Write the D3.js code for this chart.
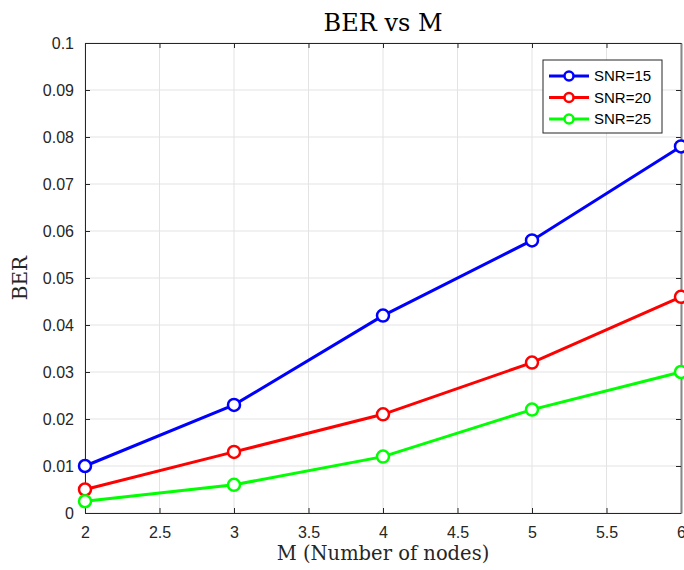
<!DOCTYPE html>
<html>
<head>
<meta charset="utf-8">
<script src="https://cdn.jsdelivr.net/npm/d3@7"></script>
<style>
    body { margin: 0; background: #fff; }
    svg { display: block; }
</style>
</head>
<body>
<svg id="chart" width="684" height="570"></svg>
<script>
const mValues = [ 2, 3, 4, 5, 6 ];
const berSnr15 = [ 0.010, 0.023, 0.042, 0.058, 0.078 ];
const berSnr20 = [ 0.005, 0.013, 0.021, 0.032, 0.046 ];
const berSnr25 = [ 0.0025, 0.006, 0.012, 0.022, 0.030 ];
const seriesNames = [ 'SNR=15', 'SNR=20', 'SNR=25' ];
const seriesColors = [ '#0000ff', '#ff0000', '#00ff00' ];
const xTicks = [ 2, 2.5, 3, 3.5, 4, 4.5, 5, 5.5, 6 ];
const yTicks = [ 0, 0.01, 0.02, 0.03, 0.04, 0.05, 0.06, 0.07, 0.08, 0.09, 0.1 ];

const series = [ berSnr15, berSnr20, berSnr25 ].map( ( vals, i ) => {
    return { name: seriesNames[ i ], color: seriesColors[ i ], values: vals.map( ( v, j ) => ( { m: mValues[ j ], ber: v } ) ) };
} );

const svg = d3.select( '#chart' ),
    margin = { top: 43, right: 3, bottom: 57, left: 85 };

// x=6 sits at 681, right part of the figure is cut off like the original
let x = d3.scaleLinear().domain( [ 2, 6 ] ).range( [ 0, 596 ] ),
    y = d3.scaleLinear().domain( [ 0, 0.1 ] ).range( [ 470, 0 ] );

const g = svg.append( 'g' ).attr( 'transform', 'translate(' + margin.left + ',' + margin.top + ')' );
const pw = x( 6 ), ph = y( 0 );

// grid
g.append( 'g' ).selectAll( 'line' ).data( xTicks ).enter().append( 'line' )
    .attr( 'x1', d => x( d ) ).attr( 'x2', d => x( d ) )
    .attr( 'y1', 0 ).attr( 'y2', ph )
    .attr( 'stroke', '#e3e3e3' ).attr( 'stroke-width', 1 );
g.append( 'g' ).selectAll( 'line' ).data( yTicks ).enter().append( 'line' )
    .attr( 'x1', 0 ).attr( 'x2', pw )
    .attr( 'y1', d => y( d ) ).attr( 'y2', d => y( d ) )
    .attr( 'stroke', '#e3e3e3' ).attr( 'stroke-width', 1 );

// axes
const fmtY = d => d === 0 ? '0' : d3.format( '' )( +d.toFixed( 2 ) );
const xAxis = g.append( 'g' ).attr( 'transform', 'translate(0,' + ph + ')' )
    .call( d3.axisBottom( x ).tickValues( xTicks ).tickSizeInner( -5 ).tickSizeOuter( 0 ).tickPadding( 14 ).tickFormat( d => d ) );
const xAxisTop = g.append( 'g' )
    .call( d3.axisTop( x ).tickValues( xTicks ).tickSizeInner( -5 ).tickSizeOuter( 0 ).tickFormat( '' ) );
const yAxis = g.append( 'g' )
    .call( d3.axisLeft( y ).tickValues( yTicks ).tickSizeInner( -5 ).tickSizeOuter( 0 ).tickPadding( 11 ).tickFormat( fmtY ) );
const yAxisRight = g.append( 'g' ).attr( 'transform', 'translate(' + pw + ',0)' )
    .call( d3.axisRight( y ).tickValues( yTicks ).tickSizeInner( -5 ).tickSizeOuter( 0 ).tickFormat( '' ) );

[ xAxis, xAxisTop, yAxis, yAxisRight ].forEach( a => {
    a.selectAll( 'path' ).attr( 'stroke', '#262626' ).attr( 'stroke-width', 1 );
    a.selectAll( 'line' ).attr( 'stroke', '#262626' );
    a.selectAll( 'text' ).attr( 'fill', '#262626' ).style( 'font-family', '"Liberation Sans", Arial, sans-serif' ).style( 'font-size', '16px' );
} );
yAxisRight.select( 'path' ).attr( 'stroke', '#888' ).attr( 'stroke-width', 2 );

// lines
const line = d3.line().x( d => x( d.m ) ).y( d => y( d.ber ) );
const sensor = g.selectAll( '.series' ).data( series ).enter().append( 'g' ).attr( 'class', 'series' );
sensor.append( 'path' )
    .attr( 'd', d => line( d.values ) )
    .attr( 'fill', 'none' ).attr( 'stroke', d => d.color ).attr( 'stroke-width', 3 );
sensor.each( function( s ) {
    d3.select( this ).selectAll( 'circle' ).data( s.values ).enter().append( 'circle' )
        .attr( 'cx', d => x( d.m ) ).attr( 'cy', d => y( d.ber ) ).attr( 'r', 6 )
        .attr( 'fill', '#fff' ).attr( 'stroke', s.color ).attr( 'stroke-width', 2.5 );
} );

// legend
const leg = svg.append( 'g' ).attr( 'transform', 'translate(543,60)' );
leg.append( 'rect' ).attr( 'width', 119 ).attr( 'height', 73 )
    .attr( 'fill', '#fff' ).attr( 'stroke', '#262626' ).attr( 'stroke-width', 1 );
series.forEach( ( s, i ) => {
    let ly = 16 + i * 21.5;
    leg.append( 'line' ).attr( 'x1', 6 ).attr( 'x2', 46 ).attr( 'y1', ly ).attr( 'y2', ly )
        .attr( 'stroke', s.color ).attr( 'stroke-width', 3 );
    leg.append( 'circle' ).attr( 'cx', 26 ).attr( 'cy', ly ).attr( 'r', 4.5 )
        .attr( 'fill', '#fff' ).attr( 'stroke', s.color ).attr( 'stroke-width', 2.5 );
    leg.append( 'text' ).attr( 'x', 51 ).attr( 'y', ly ).attr( 'dy', '0.36em' )
        .style( 'font-family', '"Liberation Sans", Arial, sans-serif' ).style( 'font-size', '15px' )
        .attr( 'fill', '#000' ).text( s.name );
} );

// labels
const serif = '"DejaVu Serif", "Liberation Serif", serif';
svg.append( 'text' ).attr( 'x', margin.left + pw / 2 ).attr( 'y', 31 ).attr( 'text-anchor', 'middle' )
    .style( 'font-family', serif ).style( 'font-size', '24px' ).attr( 'fill', '#000' ).text( 'BER vs M' );
svg.append( 'text' ).attr( 'x', margin.left + pw / 2 ).attr( 'y', 560 ).attr( 'text-anchor', 'middle' )
    .style( 'font-family', serif ).style( 'font-size', '19.5px' ).attr( 'fill', '#262626' ).text( 'M (Number of nodes)' );
svg.append( 'text' ).attr( 'transform', 'translate(27,' + ( margin.top + ph / 2 ) + ') rotate(-90)' ).attr( 'text-anchor', 'middle' )
    .style( 'font-family', serif ).style( 'font-size', '20px' ).attr( 'fill', '#262626' ).text( 'BER' );
</script>
</body>
</html>
